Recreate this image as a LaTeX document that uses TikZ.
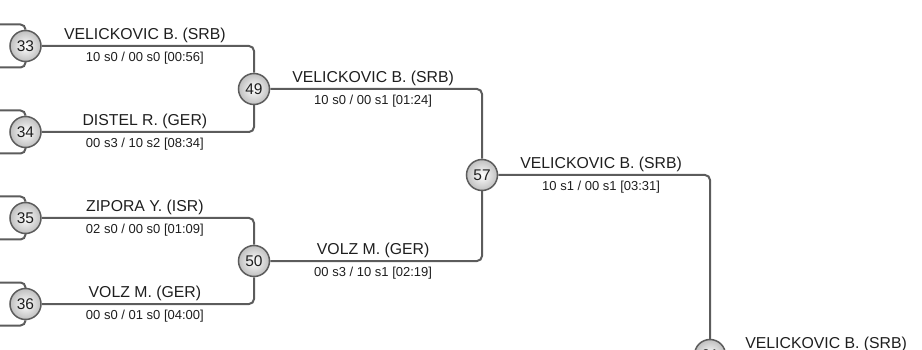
\documentclass[tikz,border=0pt]{standalone}
\usepackage{fontspec}
\setmainfont{Liberation Sans}
\definecolor{linegray}{RGB}{92,92,92}
\definecolor{textgray}{RGB}{30,30,30}
\begin{document}
\begin{tikzpicture}[x=1pt,y=-1pt,
  match/.style={circle, draw=linegray, line width=1.5pt, inner color=white, outer color=black!25,
    minimum size=31pt, inner sep=0pt, text=textgray, font=\fontsize{15.5}{16}\selectfont},
  link/.style={draw=linegray, line width=2pt, rounded corners=5pt},
  who/.style={above, inner sep=2pt, xshift=-3pt, text=textgray, font=\fontsize{15.8}{17}\selectfont},
  score/.style={below, inner sep=5.5pt, xshift=-3pt, text=textgray, font=\fontsize{13}{14}\selectfont}]
\clip (0,0) rectangle (922,350);
\node[match] (m33) at (25.5,46) {33};
\node[match] (m34) at (25.5,132) {34};
\node[match] (m35) at (25.5,218) {35};
\node[match] (m36) at (25.5,304) {36};
\node[match] (m49) at (254,89) {49};
\node[match] (m50) at (254,261) {50};
\node[match] (m57) at (482,175) {57};
\node[match] (m61) at (710,355) {61};
\coordinate (s33a) at (-20,24.5);
\coordinate (s33b) at (-20,67.5);
\coordinate (s34a) at (-20,110.5);
\coordinate (s34b) at (-20,153.5);
\coordinate (s35a) at (-20,196.5);
\coordinate (s35b) at (-20,239.5);
\coordinate (s36a) at (-20,282.5);
\coordinate (s36b) at (-20,325.5);
\coordinate (f61) at (932,355);
\draw[link] (s33a) -| (m33);
\draw[link] (s33b) -| (m33);
\draw[link] (s34a) -| (m34);
\draw[link] (s34b) -| (m34);
\draw[link] (s35a) -| (m35);
\draw[link] (s35b) -| (m35);
\draw[link] (s36a) -| (m36);
\draw[link] (s36b) -| (m36);
\draw[link] (m33) -| node[who,pos=0.25] {VELICKOVIC B. (SRB)} node[score,pos=0.25] {10 s0 / 00 s0 [00:56]} (m49);
\draw[link] (m34) -| node[who,pos=0.25] {DISTEL R. (GER)} node[score,pos=0.25] {00 s3 / 10 s2 [08:34]} (m49);
\draw[link] (m35) -| node[who,pos=0.25] {ZIPORA Y. (ISR)} node[score,pos=0.25] {02 s0 / 00 s0 [01:09]} (m50);
\draw[link] (m36) -| node[who,pos=0.25] {VOLZ M. (GER)} node[score,pos=0.25] {00 s0 / 01 s0 [04:00]} (m50);
\draw[link] (m49) -| node[who,pos=0.25] {VELICKOVIC B. (SRB)} node[score,pos=0.25] {10 s0 / 00 s1 [01:24]} (m57);
\draw[link] (m50) -| node[who,pos=0.25] {VOLZ M. (GER)} node[score,pos=0.25] {00 s3 / 10 s1 [02:19]} (m57);
\draw[link] (m57) -| node[who,pos=0.25] {VELICKOVIC B. (SRB)} node[score,pos=0.25] {10 s1 / 00 s1 [03:31]} (m61);
\draw[link] (m61) -- node[who] {VELICKOVIC B. (SRB)} (f61);
\end{tikzpicture}
\end{document}
